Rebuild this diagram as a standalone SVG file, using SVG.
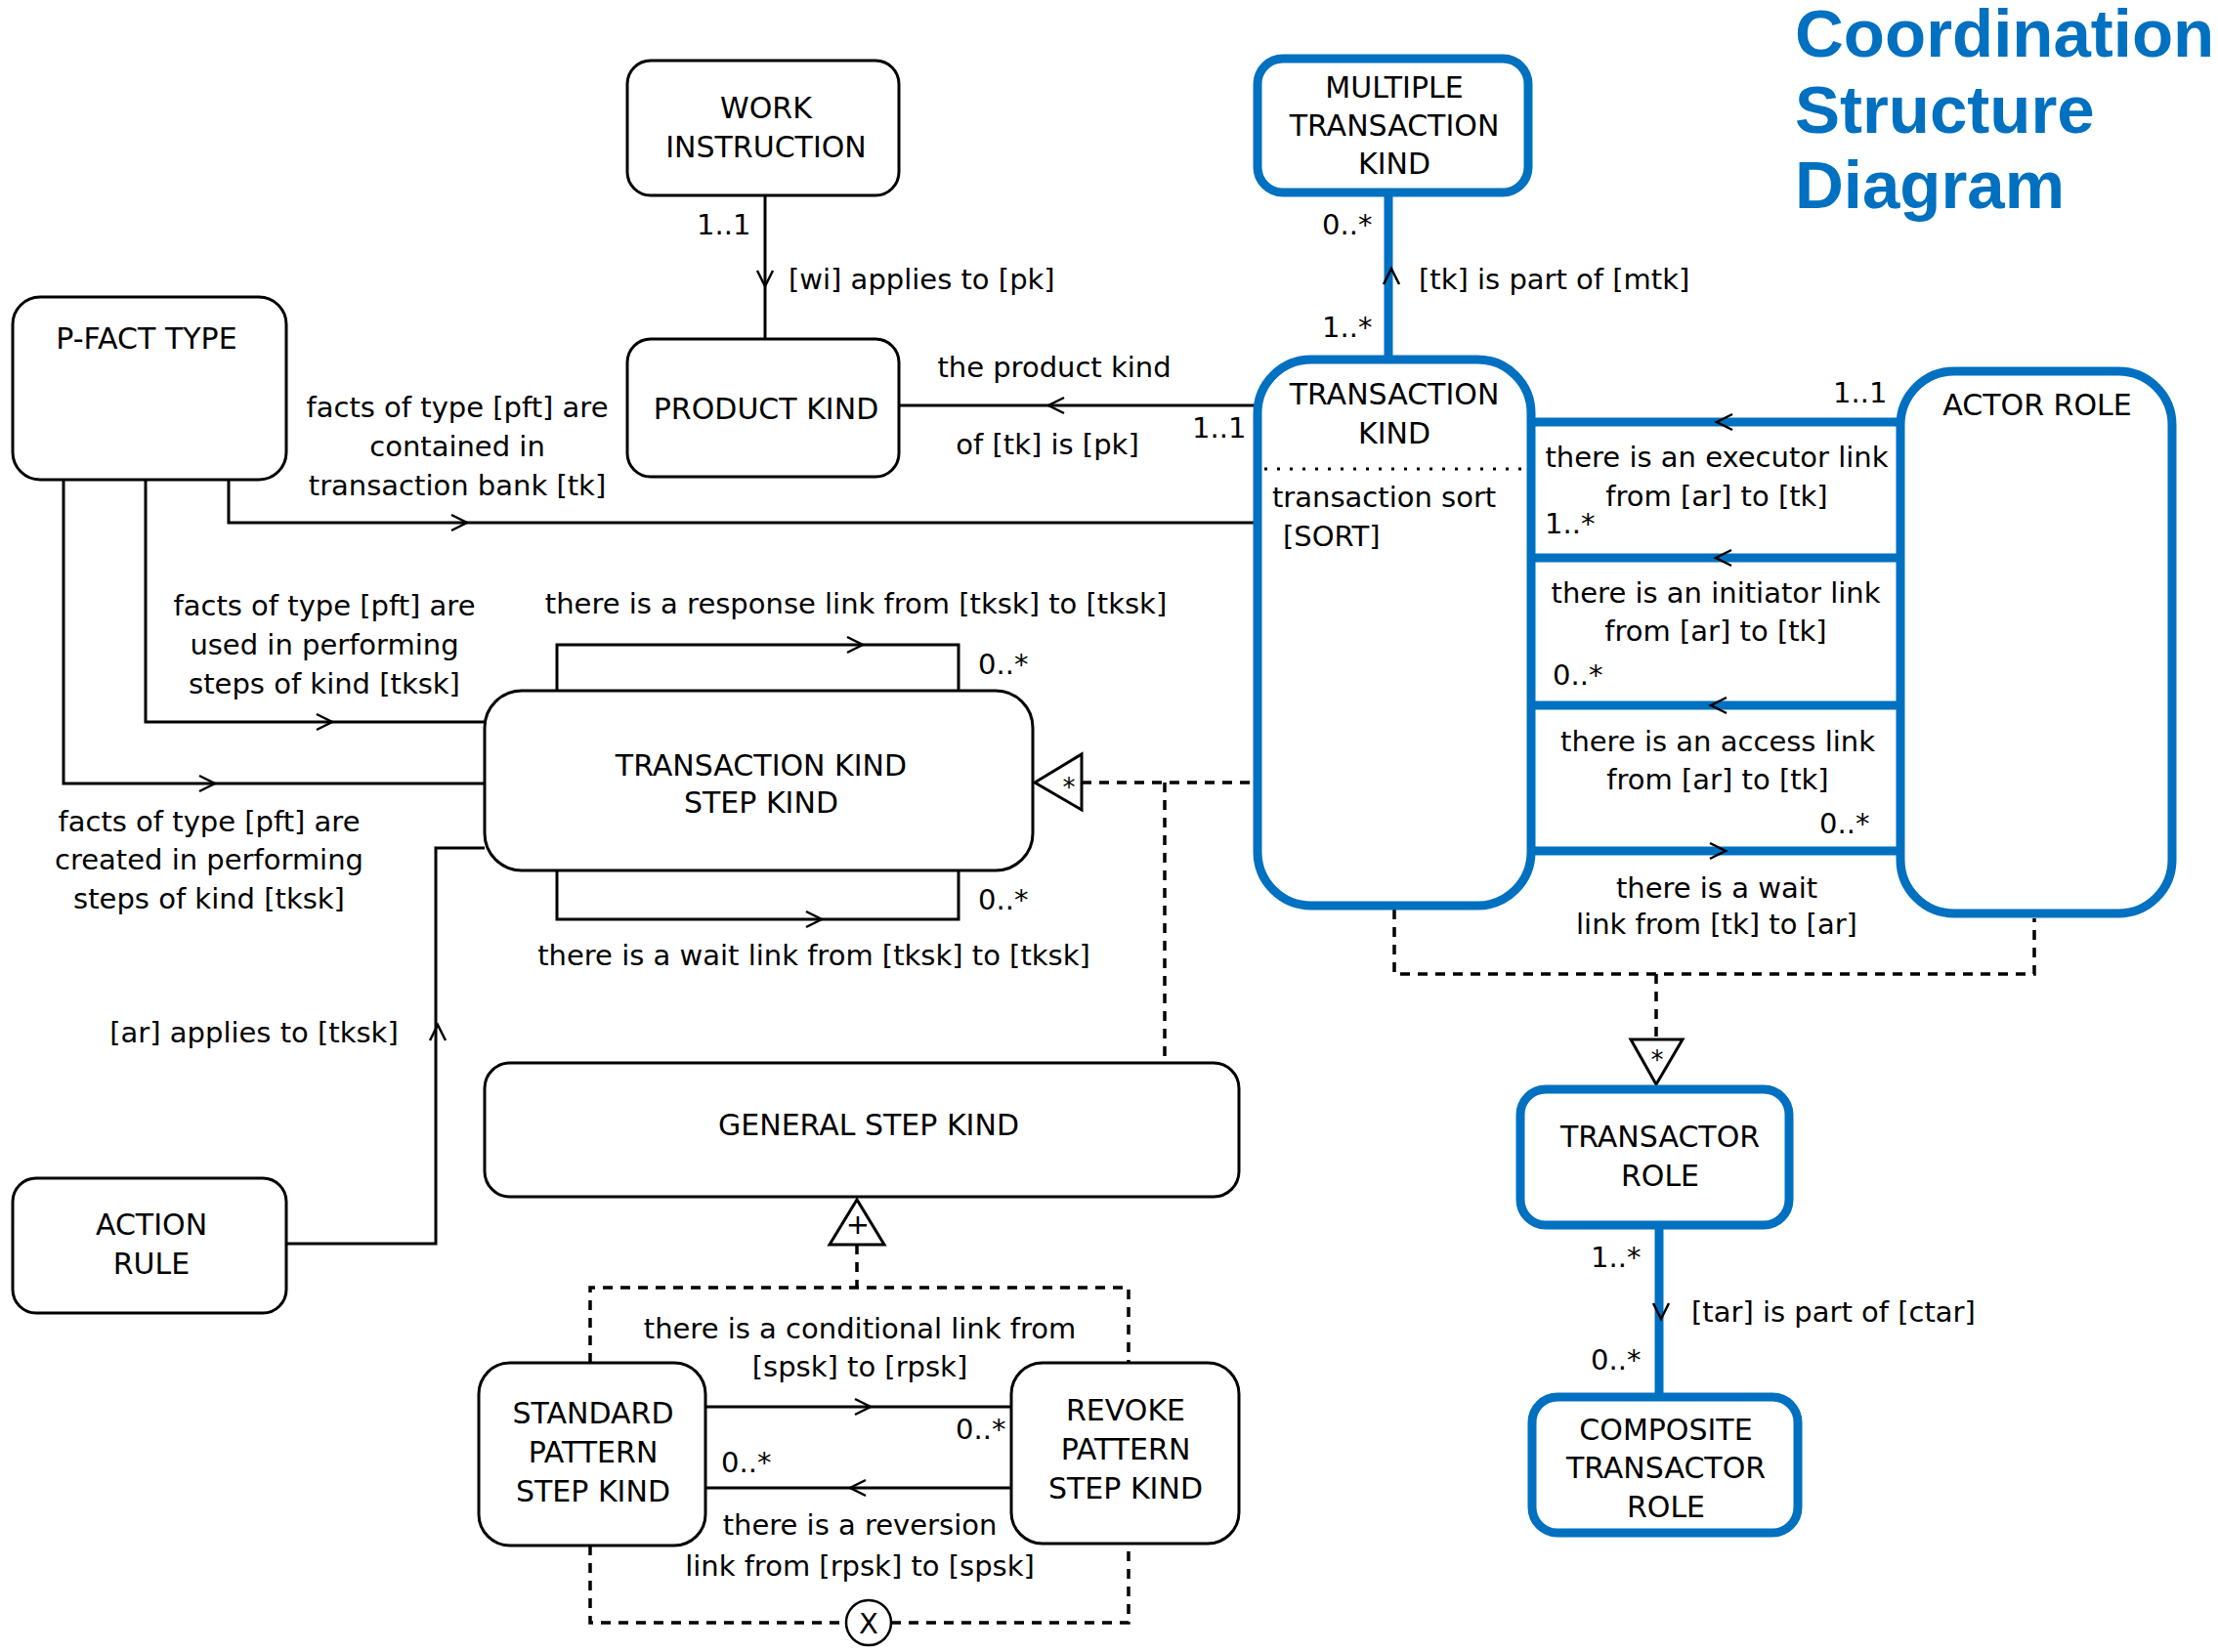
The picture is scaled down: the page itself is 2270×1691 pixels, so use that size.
<svg xmlns="http://www.w3.org/2000/svg" xmlns:xlink="http://www.w3.org/1999/xlink" width="2270" height="1691" viewBox="0 0 2270 1691">
<style>
  text { font-family: "DejaVu Sans", Verdana, sans-serif; font-size: 29px; fill: #000; }
  .c { text-anchor: middle; }
  .n { font-size: 30px; }
  .title { font-family: "Liberation Sans", Arial, sans-serif; font-weight: bold; font-size: 69px; fill: #0070C0; }
  .bn { fill: #fff; stroke: #000; stroke-width: 3; }
  .blue { fill: #fff; stroke: #0070C0; stroke-width: 9; }
  .ln { fill: none; stroke: #000; stroke-width: 3; }
  .bl { fill: none; stroke: #0070C0; stroke-width: 9; }
  .dash { fill: none; stroke: #000; stroke-width: 3.5; stroke-dasharray: 10 8; }
  .tri { fill: #fff; stroke: #000; stroke-width: 3; }
  .chev { fill: none; stroke: #000; stroke-width: 2.5; }
  .dot { fill: none; stroke: #000; stroke-width: 3; stroke-dasharray: 3 10; }
  .sym { font-size: 26px; }
</style>
<defs>
  <path id="chev" class="chev" d="M-16,-8 L0,0 L-16,8"/>
</defs>

<rect width="2270" height="1691" fill="#fff"/>

<g id="title">
  <text class="title" x="1837" y="58">Coordination</text>
  <text class="title" x="1837" y="136">Structure</text>
  <text class="title" x="1837" y="213">Diagram</text>
</g>

<g id="connectors">
  <!-- WI -> PK -->
  <line class="ln" x1="783" y1="200" x2="783" y2="347"/>
  <use xlink:href="#chev" href="#chev" transform="translate(783,293) rotate(90)"/>
  <text x="713" y="240">1..1</text>
  <text x="807" y="296">[wi] applies to [pk]</text>

  <!-- TK -> PK -->
  <line class="ln" x1="920" y1="415" x2="1287" y2="415"/>
  <use xlink:href="#chev" href="#chev" transform="translate(1073,415) rotate(180)"/>
  <text class="c" x="1079" y="386">the product kind</text>
  <text class="c" x="1072" y="465">of [tk] is [pk]</text>
  <text x="1220" y="448">1..1</text>

  <!-- PFT -> TK -->
  <polyline class="ln" points="234,491 234,535 1287,535"/>
  <use xlink:href="#chev" href="#chev" transform="translate(478,535)"/>
  <text class="c" x="468" y="427">facts of type [pft] are</text>
  <text class="c" x="468" y="467">contained in</text>
  <text class="c" x="468" y="507">transaction bank [tk]</text>

  <!-- PFT -> TKSK used -->
  <polyline class="ln" points="149,491 149,739 496,739"/>
  <use xlink:href="#chev" href="#chev" transform="translate(340,739)"/>
  <text class="c" x="332" y="630">facts of type [pft] are</text>
  <text class="c" x="332" y="670">used in performing</text>
  <text class="c" x="332" y="710">steps of kind [tksk]</text>

  <!-- PFT -> TKSK created -->
  <polyline class="ln" points="65,491 65,802 496,802"/>
  <use xlink:href="#chev" href="#chev" transform="translate(220,802)"/>
  <text class="c" x="214" y="851">facts of type [pft] are</text>
  <text class="c" x="214" y="890">created in performing</text>
  <text class="c" x="214" y="930">steps of kind [tksk]</text>

  <!-- TKSK response loop -->
  <polyline class="ln" points="570,707 570,660 981,660 981,707"/>
  <use xlink:href="#chev" href="#chev" transform="translate(883,660)"/>
  <text class="c" x="876" y="628">there is a response link from [tksk] to [tksk]</text>
  <text x="1001" y="690">0..*</text>

  <!-- TKSK wait loop -->
  <polyline class="ln" points="570,891 570,941 981,941 981,891"/>
  <use xlink:href="#chev" href="#chev" transform="translate(841,941)"/>
  <text class="c" x="833" y="988">there is a wait link from [tksk] to [tksk]</text>
  <text x="1001" y="931">0..*</text>

  <!-- Action rule -> TKSK -->
  <polyline class="ln" points="293,1273 446,1273 446,868 496,868"/>
  <use xlink:href="#chev" href="#chev" transform="translate(448,1049) rotate(-90)"/>
  <text class="c" x="260" y="1067">[ar] applies to [tksk]</text>

  <!-- TKSK specialization of TK -->
  <polyline class="dash" points="1107,801 1285,801"/>
  <polyline class="dash" points="1192,801 1192,1088"/>
  <polygon class="tri" points="1059,801 1107,772 1107,829"/>
  <text class="c sym" x="1094" y="815">*</text>

  <!-- MTK - TK -->
  <line class="bl" x1="1421" y1="200" x2="1421" y2="366"/>
  <use xlink:href="#chev" href="#chev" transform="translate(1424,275) rotate(-90)"/>
  <text x="1353" y="240">0..*</text>
  <text x="1353" y="345">1..*</text>
  <text x="1452" y="296">[tk] is part of [mtk]</text>

  <!-- TK - AR links -->
  <line class="bl" x1="1567" y1="432" x2="1945" y2="432"/>
  <use xlink:href="#chev" href="#chev" transform="translate(1757,432) rotate(180)"/>
  <text x="1876" y="412">1..1</text>
  <text class="c" x="1757" y="478">there is an executor link</text>
  <text class="c" x="1757" y="518">from [ar] to [tk]</text>
  <text x="1581" y="546">1..*</text>

  <line class="bl" x1="1567" y1="571" x2="1945" y2="571"/>
  <use xlink:href="#chev" href="#chev" transform="translate(1756,571) rotate(180)"/>
  <text class="c" x="1756" y="617">there is an initiator link</text>
  <text class="c" x="1756" y="656">from [ar] to [tk]</text>
  <text x="1589" y="701">0..*</text>

  <line class="bl" x1="1567" y1="722" x2="1945" y2="722"/>
  <use xlink:href="#chev" href="#chev" transform="translate(1751,722) rotate(180)"/>
  <text class="c" x="1758" y="769">there is an access link</text>
  <text class="c" x="1758" y="808">from [ar] to [tk]</text>
  <text x="1862" y="853">0..*</text>

  <line class="bl" x1="1567" y1="871" x2="1945" y2="871"/>
  <use xlink:href="#chev" href="#chev" transform="translate(1766,871)"/>
  <text class="c" x="1757" y="919">there is a wait</text>
  <text class="c" x="1757" y="956">link from [tk] to [ar]</text>

  <!-- TK/AR specialization to TR -->
  <polyline class="dash" points="1427,931 1427,997 2082,997 2082,940"/>
  <polyline class="dash" points="1695,997 1695,1064"/>
  <polygon class="tri" points="1669,1064 1722,1064 1695,1110"/>
  <text class="c sym" x="1696" y="1094">*</text>

  <!-- TR - CTR -->
  <line class="bl" x1="1698" y1="1252" x2="1698" y2="1432"/>
  <use xlink:href="#chev" href="#chev" transform="translate(1700,1350) rotate(90)"/>
  <text x="1628" y="1297">1..*</text>
  <text x="1731" y="1353">[tar] is part of [ctar]</text>
  <text x="1628" y="1402">0..*</text>

  <!-- GSK generalization -->
  <polyline class="dash" points="877,1274 877,1318"/>
  <polyline class="dash" points="604,1395 604,1318 1155,1318 1155,1395"/>
  <polyline class="dash" points="604,1582 604,1661 866,1661"/>
  <polyline class="dash" points="912,1661 1155,1661 1155,1580"/>
  <polygon class="tri" points="877,1228 849,1274 905,1274"/>
  <text class="c" x="878" y="1263">+</text>
  <circle cx="889" cy="1661" r="23" fill="#fff" stroke="#000" stroke-width="2.5"/>
  <text class="c" x="889" y="1672">X</text>

  <!-- SPSK <-> RPSK -->
  <line class="ln" x1="722" y1="1440" x2="1035" y2="1440"/>
  <use xlink:href="#chev" href="#chev" transform="translate(891,1440)"/>
  <line class="ln" x1="722" y1="1523" x2="1035" y2="1523"/>
  <use xlink:href="#chev" href="#chev" transform="translate(870,1523) rotate(180)"/>
  <text class="c" x="880" y="1370">there is a conditional link from</text>
  <text class="c" x="880" y="1409">[spsk] to [rpsk]</text>
  <text x="978" y="1473">0..*</text>
  <text x="738" y="1507">0..*</text>
  <text class="c" x="880" y="1571">there is a reversion</text>
  <text class="c" x="880" y="1613">link from [rpsk] to [spsk]</text>
</g>

<g id="work-instruction">
  <rect class="bn" x="642" y="62" width="278" height="138" rx="24"/>
  <text class="c n" x="784" y="121">WORK</text>
  <text class="c n" x="784" y="161">INSTRUCTION</text>
</g>
<g id="product-kind">
  <rect class="bn" x="642" y="347" width="278" height="141" rx="24"/>
  <text class="c n" x="784" y="429">PRODUCT KIND</text>
</g>
<g id="p-fact-type">
  <rect class="bn" x="13" y="304" width="280" height="187" rx="28"/>
  <text class="c n" x="150" y="357">P-FACT TYPE</text>
</g>
<g id="transaction-kind-step-kind">
  <rect class="bn" x="496" y="707" width="561" height="184" rx="38"/>
  <text class="c n" x="779" y="794">TRANSACTION KIND</text>
  <text class="c n" x="779" y="832">STEP KIND</text>
</g>
<g id="general-step-kind">
  <rect class="bn" x="496" y="1088" width="772" height="137" rx="26"/>
  <text class="c n" x="889" y="1162">GENERAL STEP KIND</text>
</g>
<g id="standard-pattern-step-kind">
  <rect class="bn" x="490" y="1395" width="232" height="187" rx="32"/>
  <text class="c n" x="607" y="1457">STANDARD</text>
  <text class="c n" x="607" y="1497">PATTERN</text>
  <text class="c n" x="607" y="1537">STEP KIND</text>
</g>
<g id="revoke-pattern-step-kind">
  <rect class="bn" x="1035" y="1395" width="233" height="185" rx="32"/>
  <text class="c n" x="1152" y="1454">REVOKE</text>
  <text class="c n" x="1152" y="1494">PATTERN</text>
  <text class="c n" x="1152" y="1534">STEP KIND</text>
</g>
<g id="action-rule">
  <rect class="bn" x="13" y="1206" width="280" height="138" rx="24"/>
  <text class="c n" x="155" y="1264">ACTION</text>
  <text class="c n" x="155" y="1304">RULE</text>
</g>

<g id="multiple-transaction-kind">
  <rect class="blue" x="1287" y="60" width="277" height="137" rx="26"/>
  <text class="c n" x="1427" y="100">MULTIPLE</text>
  <text class="c n" x="1427" y="139">TRANSACTION</text>
  <text class="c n" x="1427" y="178">KIND</text>
</g>
<g id="transaction-kind">
  <rect class="blue" x="1287" y="368" width="280" height="559" rx="55"/>
  <text class="c n" x="1427" y="414">TRANSACTION</text>
  <text class="c n" x="1427" y="454">KIND</text>
  <line class="dot" x1="1294" y1="480" x2="1562" y2="480"/>
  <text x="1302" y="519">transaction sort</text>
  <text x="1313" y="559">[SORT]</text>
</g>
<g id="actor-role">
  <rect class="blue" x="1945" y="380" width="278" height="555" rx="55"/>
  <text class="c n" x="2085" y="425">ACTOR ROLE</text>
</g>
<g id="transactor-role">
  <rect class="blue" x="1556" y="1115" width="275" height="139" rx="26"/>
  <text class="c n" x="1699" y="1174">TRANSACTOR</text>
  <text class="c n" x="1699" y="1214">ROLE</text>
</g>
<g id="composite-transactor-role">
  <rect class="blue" x="1568" y="1430" width="272" height="139" rx="26"/>
  <text class="c n" x="1705" y="1474">COMPOSITE</text>
  <text class="c n" x="1705" y="1513">TRANSACTOR</text>
  <text class="c n" x="1705" y="1553">ROLE</text>
</g>
</svg>
